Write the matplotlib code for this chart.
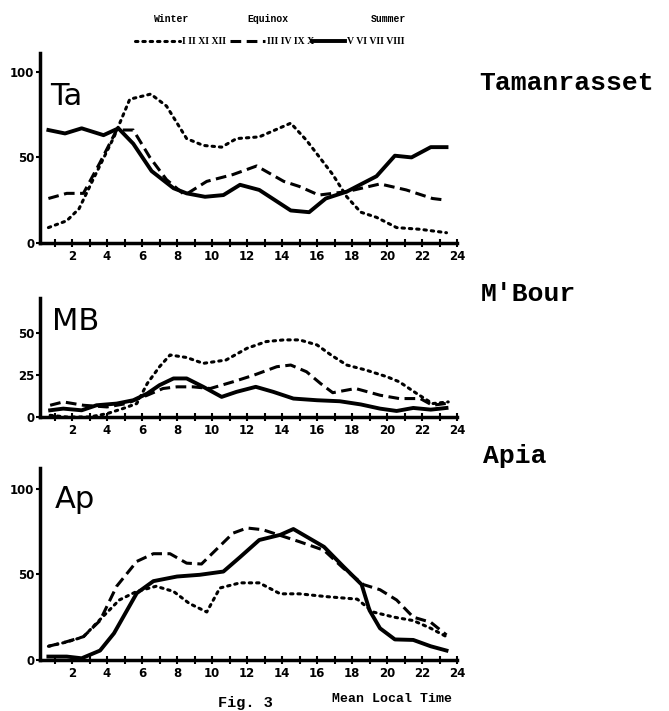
import matplotlib.pyplot as plt
from matplotlib.lines import Line2D

# hour of day / relative frequency
ta_winter_h = [0.65, 1.7, 2.4, 3.2, 4.4, 5.3, 6.5, 7.4, 8.55, 9.5, 10.55, 11.4, 12.7, 14.5, 15.4, 16.9, 17.7, 18.5, 19.4, 20.55, 21.9, 23.4]
ta_winter_v = [9, 13, 20, 37, 62, 84, 87, 80, 61, 57, 56, 61, 62, 70, 60, 40, 27, 18, 15, 9, 8, 6]
ta_equinox_h = [0.65, 1.7, 2.65, 3.6, 4.55, 5.5, 6.45, 7.4, 8.45, 9.7, 11.2, 12.55, 14.1, 15.0, 16.1, 17.7, 19.6, 21.1, 22.6, 23.4]
ta_equinox_v = [26, 29, 29, 47, 66, 66, 50, 37, 28, 36, 40, 45, 36, 33, 28, 30, 34.5, 31, 26, 25]
ta_summer_h = [0.65, 1.6, 2.55, 3.8, 4.65, 5.5, 6.55, 7.8, 8.55, 9.6, 10.65, 11.6, 12.7, 14.5, 15.55, 16.5, 17.7, 19.4, 20.45, 21.4, 22.5, 23.4]
ta_summer_v = [66, 64, 67, 63, 67, 58, 42, 32, 29, 27, 28, 34, 31, 19, 18, 26, 30, 39, 51, 50, 56, 56]

mb_winter_h = [0.75, 1.7, 3.0, 4.0, 4.9, 5.7, 6.3, 7.0, 7.6, 8.55, 9.5, 10.8, 12.0, 13.1, 14.1, 15.0, 16.0, 16.8, 17.7, 18.8, 20.0, 20.7, 21.7, 22.6, 23.5]
mb_winter_v = [1, 0, 0, 2, 5, 8, 20, 30, 37, 35.5, 32, 34, 41, 45, 46, 46, 43, 37, 31, 28, 24, 21, 14, 8, 9]
mb_equinox_h = [0.75, 1.5, 2.65, 4.0, 5.1, 6.3, 7.2, 8.0, 8.9, 9.9, 11.2, 12.4, 13.7, 14.5, 15.4, 16.2, 16.9, 18.2, 19.6, 20.7, 21.9, 22.6, 23.6]
mb_equinox_v = [7, 9, 7, 6, 8, 13, 17, 18, 18, 17, 21, 25, 30, 31, 27, 20, 14.5, 17, 13, 11, 11, 7, 8.4]
mb_summer_h = [0.75, 1.5, 2.55, 3.4, 4.55, 5.5, 6.3, 7.0, 7.8, 8.55, 9.5, 10.55, 11.4, 12.5, 13.5, 14.65, 16.0, 17.3, 18.5, 19.6, 20.55, 21.5, 22.5, 23.4]
mb_summer_v = [4, 5, 4, 7, 8, 10, 14, 19, 23, 23, 18, 12, 15, 18, 15, 11, 10, 9.4, 7.5, 5, 3.6, 5.4, 4.4, 5.4]

ap_winter_h = [0.65, 1.7, 2.65, 3.4, 4.7, 5.7, 6.8, 7.8, 8.7, 9.7, 10.45, 11.6, 12.7, 13.9, 15.0, 16.5, 18.3, 19.2, 20.4, 21.5, 22.5, 23.4]
ap_winter_v = [8, 10.5, 13.5, 21.5, 35, 40, 43, 40, 33, 28, 42, 45, 45, 38.6, 38.6, 37, 35.5, 28, 25, 23, 18.5, 13.6]
ap_equinox_h = [0.65, 1.7, 2.65, 3.6, 4.55, 5.7, 6.65, 7.6, 8.55, 9.4, 10.3, 11.2, 12.0, 12.9, 14.1, 15.0, 16.4, 17.5, 18.65, 19.6, 20.55, 21.5, 22.5, 23.4]
ap_equinox_v = [8, 10.7, 13.6, 23, 43, 57.5, 62, 62, 56.5, 56, 65, 74, 77, 76, 72, 69, 64, 53.6, 44, 41, 35, 25, 22, 14.6]
ap_summer_h = [0.65, 1.7, 2.55, 3.6, 4.4, 5.7, 6.65, 8.0, 9.3, 10.65, 11.6, 12.7, 13.9, 14.65, 16.4, 17.5, 18.55, 19.0, 19.6, 20.45, 21.5, 22.5, 23.4]
ap_summer_v = [2, 2, 1, 5.5, 15.6, 39, 46, 48.7, 49.7, 51.6, 60, 70, 73, 76.4, 66, 54.6, 44, 29, 18.5, 12, 11.7, 8, 5.5]

seasons = ["Winter", "Equinox", "Summer"]
months = ["I II XI XII", "III IV IX X", "V VI VII VIII"]
panel_short = ["Ta", "MB", "Ap"]
panel_names = ["Tamanrasset", "M'Bour", "Apia"]
panel_yticks = [[0, 50, 100], [0, 25, 50], [0, 50, 100]]
panel_ymax = [111, 71, 112]

styles = [dict(ls=(0, (0.8, 1.6)), lw=2.2, dash_capstyle="round"),
          dict(ls=(0, (3.5, 1.8)), lw=2.2),
          dict(ls="-", lw=2.8)]

W, H = 669, 711
fig = plt.figure(figsize=(6.69, 7.11), dpi=100)


def fx(px):
    return px / W


def fy(py):
    return 1 - py / H


# axes boxes in pixels: (top, bottom)
boxes = [(53, 243), (298, 417), (468, 660)]
x_left, x_right = 40, 457

data = [
    [(ta_winter_h, ta_winter_v), (ta_equinox_h, ta_equinox_v), (ta_summer_h, ta_summer_v)],
    [(mb_winter_h, mb_winter_v), (mb_equinox_h, mb_equinox_v), (mb_summer_h, mb_summer_v)],
    [(ap_winter_h, ap_winter_v), (ap_equinox_h, ap_equinox_v), (ap_summer_h, ap_summer_v)],
]

tick_font = dict(family="DejaVu Sans", weight="bold", size=8.5)

for i, (top, bot) in enumerate(boxes):
    ax = fig.add_axes([fx(x_left), fy(bot), fx(x_right) - fx(x_left), (bot - top) / H])
    for (h, v), st in zip(data[i], styles):
        ax.plot(h, v, color="black", **st)
    ax.set_xlim(0.17, 24)
    ax.set_ylim(0, panel_ymax[i])
    ax.set_xticks(range(2, 25, 2))
    ax.set_xticks(range(1, 25), minor=True)
    ax.set_yticks(panel_yticks[i])
    ax.set_xticklabels([str(t) for t in range(2, 25, 2)], fontdict=tick_font)
    ax.set_yticklabels([str(t) for t in panel_yticks[i]], fontdict=tick_font)
    ax.tick_params(axis="x", which="both", direction="inout", length=6, width=1.5, pad=2)
    ax.tick_params(axis="y", direction="out", length=3, width=1.5, pad=1)
    for s in ["top", "right"]:
        ax.spines[s].set_visible(False)
    for s in ["left", "bottom"]:
        ax.spines[s].set_linewidth(2.5)
    ax.patch.set_alpha(0)

# panel letters
fig.text(fx(50), fy(105), "Ta", fontsize=22, family="DejaVu Sans", va="baseline")
fig.text(fx(52), fy(330), "MB", fontsize=22, family="DejaVu Sans", va="baseline")
fig.text(fx(55), fy(508), "Ap", fontsize=22, family="DejaVu Sans", va="baseline")

# station names
mono = dict(family="Liberation Mono", weight="bold")
fig.text(fx(479), fy(83), panel_names[0], fontsize=19, va="center", **mono)
fig.text(fx(481), fy(294), panel_names[1], fontsize=19, va="center", **mono)
fig.text(fx(483), fy(456), panel_names[2], fontsize=19, va="center", **mono)

# legend row
leg_y = 41
season_x = [172, 268, 388]
for s, x in zip(seasons, season_x):
    fig.text(fx(x), fy(19), s, fontsize=7, ha="center", va="center", **mono)
line_spans = [(135, 180), (230, 265), (312, 345)]
label_x = [182, 267, 347]
for (a, b), st, m, lx in zip(line_spans, styles, months, label_x):
    fig.add_artist(Line2D([fx(a), fx(b)], [fy(leg_y), fy(leg_y)], color="black",
                          transform=fig.transFigure, **st))
    fig.text(fx(lx), fy(leg_y), m, fontsize=7, va="center",
             family="Liberation Serif", weight="bold")

fig.text(fx(392), fy(699), "Mean Local Time", fontsize=9.5, ha="center", va="center", **mono)
fig.text(fx(245), 0.001, "Fig. 3", fontsize=11, ha="center", va="bottom", **mono)

fig.savefig("out.png", dpi=100)
